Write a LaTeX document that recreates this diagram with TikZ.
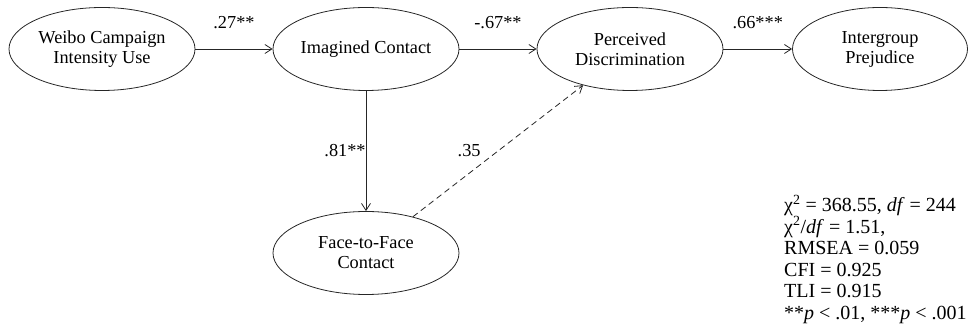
\documentclass[tikz,border=0pt]{standalone}
\usepackage{fontspec}
\setmainfont{Liberation Serif}
\usetikzlibrary{arrows.meta, shapes.geometric, positioning}

\begin{document}
\begin{tikzpicture}[x=1pt, y=1pt,
		>={Straight Barb[length=7pt,width=9pt]},
		font=\fontsize{18.3}{20}\selectfont,
		latent/.style={ellipse, draw=black!85, line width=0.8pt, inner sep=0pt,
			minimum width=186pt, minimum height=83pt, align=center},
		effect/.style={->, draw=black!85, line width=0.8pt},
		coef/.style={inner sep=3pt}]
		\useasboundingbox (0,0) rectangle (970,326);
		% 潜变量
		\node[latent] (weibo) at (102,277) {Weibo Campaign\\Intensity Use};
		\node[latent] (imag) at (366,277) {Imagined Contact};
		\node[latent] (perc) at (630,277) {Perceived\\Discrimination};
		\node[latent, minimum width=175pt] (prej) at (880,277) {Intergroup\\Prejudice};
		\node[latent] (face) at (366,73) {Face-to-Face\\Contact};
		% 路径系数
		\draw[effect] (weibo) -- (imag) node[coef, midway, above=17pt] {.27**};
		\draw[effect] (imag) -- (perc) node[coef, midway, above=17pt] {-.67**};
		\draw[effect] (perc) -- (prej) node[coef, midway, above=17pt] {.66***};
		\draw[effect] (imag) -- (face) node[coef, midway, left, inner sep=0pt] {.81**};
		\draw[effect, dash pattern=on 6pt off 4pt] (face) -- (perc) node[coef, midway, left=14pt] {.35};
		% 拟合指标
		\node[anchor=north west, inner sep=0pt, align=left,
			font=\fontsize{20}{21.5}\selectfont] (fit) at (784,131)
			{χ\textsuperscript{2} = 368.55, \textit{df} = 244\\
			χ\textsuperscript{2}/\textit{df} = 1.51,\\
			RMSEA = 0.059\\
			CFI = 0.925\\
			TLI = 0.915\\
			**\textit{p} < .01, ***\textit{p} < .001};
	\end{tikzpicture}
\end{document}
